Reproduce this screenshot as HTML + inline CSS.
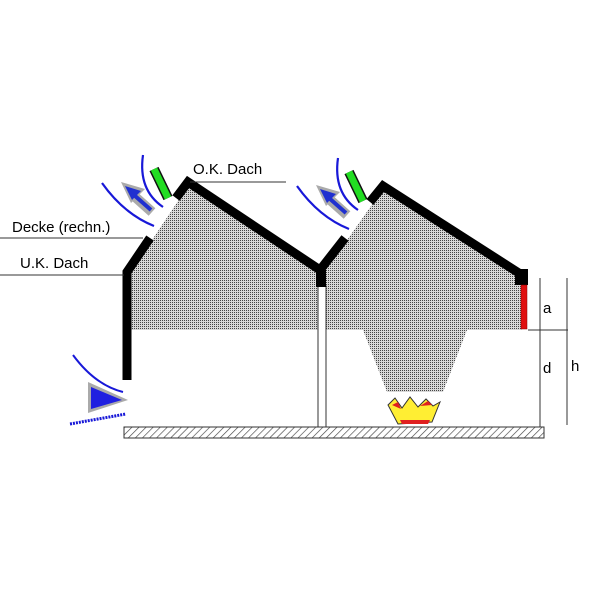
<!DOCTYPE html>
<html><head><style>body{margin:0;background:#fff}svg{display:block}</style></head><body>
<svg width="600" height="600" viewBox="0 0 600 600" xmlns="http://www.w3.org/2000/svg" font-family="Liberation Sans, sans-serif">
<defs>
<pattern id="dots" width="2" height="2" patternUnits="userSpaceOnUse"><rect width="2" height="2" fill="#d8d8d8"/><rect width="1" height="1" fill="#444"/></pattern>
<pattern id="hatch" width="5" height="5" patternUnits="userSpaceOnUse" patternTransform="rotate(45)"><rect width="5" height="5" fill="#fff"/><line x1="0" y1="0" x2="0" y2="5" stroke="#444" stroke-width="1.3"/></pattern>
<g id="vent">
<path d="M102,183 Q124,214 154,226" fill="none" stroke="#1818d8" stroke-width="2.2"/>
<path d="M143,155 Q138,190 163,207" fill="none" stroke="#1818d8" stroke-width="2.2"/>
<line x1="152" y1="212" x2="133" y2="195" stroke="#aaa" stroke-width="10"/>
<polygon points="121,182 145,189 131,203" fill="#aaa"/>
<line x1="151" y1="210" x2="134" y2="195" stroke="#2030d0" stroke-width="4"/>
<polygon points="125,186 141,191 132,200" fill="#2030d0"/>
<line x1="154" y1="169" x2="168" y2="198" stroke="#111" stroke-width="10"/>
<line x1="154" y1="169" x2="168" y2="198" stroke="#22dd22" stroke-width="7"/>
</g>
</defs>
<polygon points="131,272 150,243 188,186 320,275 345,243 383,189 522,277 522,330 467,330 443,392 387,392 363,330 131,330" fill="url(#dots)"/>
<rect x="318" y="286" width="8" height="141" fill="#fff" stroke="#333" stroke-width="1"/>
<rect x="124" y="427" width="420" height="11" fill="url(#hatch)" stroke="#333" stroke-width="1"/>
<g fill="none" stroke="#000" stroke-width="9" stroke-linejoin="miter">
<polyline points="127,380 127,272 150,238"/>
<polyline points="176,198 188,182 320,270 345,238"/>
<polyline points="370,202 383,186 522,275"/>
</g>
<rect x="316" y="270" width="10" height="17" fill="#000"/>
<rect x="515" y="269" width="13" height="16" fill="#000"/>
<rect x="521" y="285" width="6" height="44" fill="#e01010" stroke="#800" stroke-width="0.5"/>
<use href="#vent"/>
<use href="#vent" transform="translate(195,3)"/>
<path d="M73,355 Q95,385 123,392" fill="none" stroke="#1818d8" stroke-width="2"/>
<polygon points="88,382 128,400 88,413" fill="#aaa"/>
<polygon points="91,387 122,400 91,409" fill="#2020e0"/>
<line x1="70" y1="424" x2="126" y2="414" stroke="#1818d8" stroke-width="3" stroke-dasharray="2,1"/>
<path d="M388,405 L395,398 L402,408 L410,397 L418,407 L426,399 L433,406 L440,402 L432,422 L398,424 Z" fill="#ffee33" stroke="#333" stroke-width="1"/>
<path d="M392,405 L398,402 L401,409 Z M420,406 L428,401 L432,405 Z M400,420 L430,420 L428,424 L402,424 Z" fill="#e02020"/>
<g stroke="#333" stroke-width="1">
<line x1="540" y1="278" x2="540" y2="427"/>
<line x1="567" y1="278" x2="567" y2="425"/>
<line x1="528" y1="330" x2="568" y2="330"/>
<line x1="190" y1="182" x2="286" y2="182"/>
<line x1="0" y1="238" x2="143" y2="238"/>
<line x1="0" y1="275" x2="124" y2="275"/>
</g>
<g font-size="15" fill="#000">
<text x="193" y="174">O.K. Dach</text>
<text x="12" y="232">Decke (rechn.)</text>
<text x="20" y="268">U.K. Dach</text>
<text x="543" y="313">a</text>
<text x="543" y="373">d</text>
<text x="571" y="371">h</text>
</g>
</svg>
</body></html>
